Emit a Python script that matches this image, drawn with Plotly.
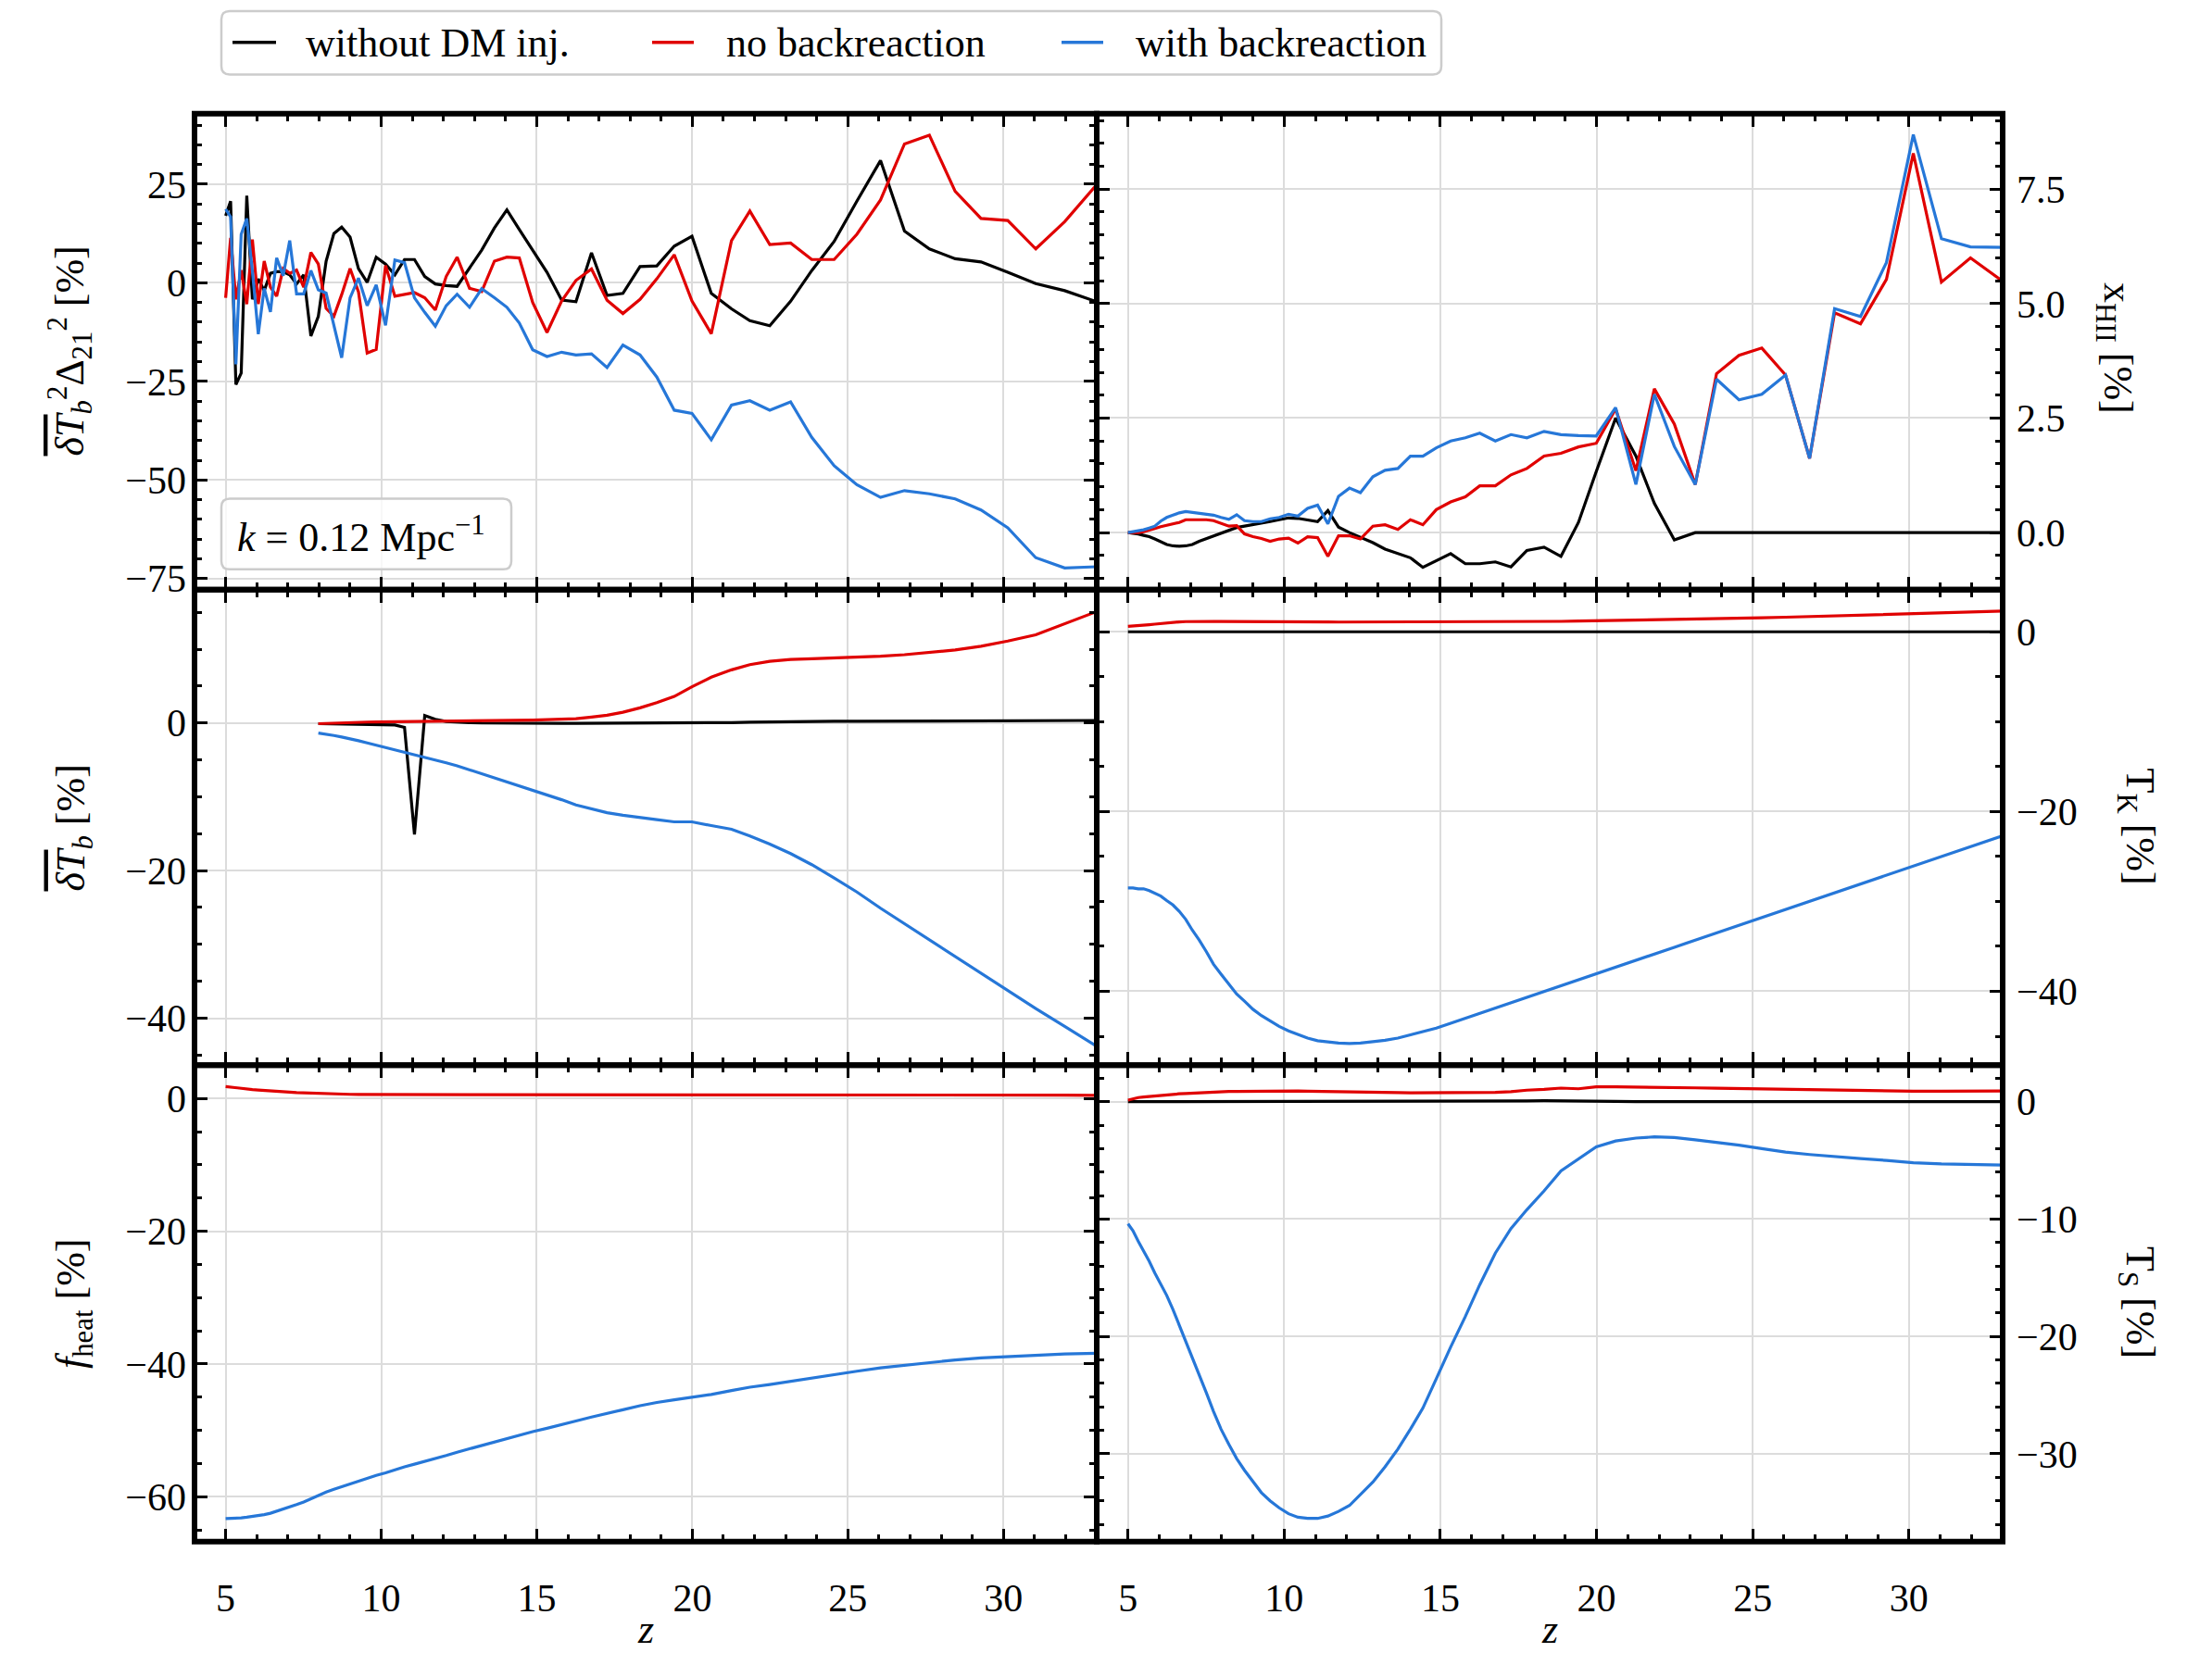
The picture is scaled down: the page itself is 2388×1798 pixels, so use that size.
import plotly.graph_objects as go
from plotly.subplots import make_subplots

W, H = 2388, 1798
FONT = "Liberation Serif"
TICK_SIZE = 42
TEXT_SIZE = 44

# ---------------------------------------------------------------- data
# redshift of the lightcone snapshots
z = [5.00, 5.16, 5.33, 5.50, 5.68, 5.86, 6.05, 6.24, 6.44, 6.64, 6.85, 7.06,
     7.28, 7.51, 7.74, 7.98, 8.23, 8.48, 8.73, 9.00, 9.27, 9.55, 9.84, 10.14,
     10.44, 10.75, 11.07, 11.40, 11.74, 12.09, 12.44, 12.84, 13.23, 13.64,
     14.04, 14.44, 14.87, 15.33, 15.80, 16.26, 16.76, 17.26, 17.77, 18.32,
     18.86, 19.42, 19.99, 20.61, 21.26, 21.85, 22.49, 23.16, 23.84, 24.56,
     25.29, 26.05, 26.82, 27.62, 28.45, 29.28, 30.14, 31.04, 31.97, 33.00]

# brightness-temperature mean is only stored from z ~ 8 onwards
z_tb = z[15:]

# power spectrum at k = 0.12 / Mpc  [% difference]
ps_nodm = [17.0, 20.7, -25.8, -22.9, 22.1, -4.2, 1.0, -2.0, 2.4, 2.8, 2.8, 2.0,
           -0.3, 2.0, -13.5, -8.5, 5.5, 12.5, 14.1, 11.6, 3.6, 0.1, 6.5, 4.75,
           2.0, 5.9, 5.9, 1.6, -0.3, -0.7, -0.9, 3.9, 8.3, 13.9, 18.5, 13.5,
           8.3, 2.65, -4.4, -4.8, 7.6, -3.2, -2.7, 4.1, 4.3, 9.3, 11.8, -2.7,
           -6.6, -9.6, -10.9, -4.7, 3.1, 10.5, 20.7, 31.0, 13.1, 8.6, 6.1, 5.3,
           2.65, -0.2, -2.0, -4.8]
ps_nobr = [-3.8, 11.4, -4.2, 3.2, -5.4, 11.0, -5.4, 5.5, -1.1, -3.4, 3.6, 2.4,
           3.2, -1.1, 7.7, 4.75, -6.5, -8.5, -3.0, 3.6, -2.3, -17.8, -16.9, 4.4,
           -3.4, -3.0, -2.5, -3.8, -6.9, 1.6, 6.5, -1.4, -2.2, 5.5, 6.5, 6.3,
           -5.0, -12.6, -4.6, 0.6, 3.5, -4.4, -7.8, -4.2, 1.0, 7.1, -4.6, -12.9,
           10.7, 18.2, 9.7, 10.1, 5.9, 5.9, 12.3, 21.0, 35.2, 37.4, 23.2, 16.3,
           15.8, 8.6, 15.5, 24.9]
ps_br = [18.7, 16.7, -20.7, 12.3, 16.3, 3.0, -13.0, -1.4, -7.4, 6.3, 1.8, 10.7,
         -2.8, -2.8, 3.1, -1.8, -2.6, -10.5, -19.0, -3.8, 1.2, -5.8, -0.5, -10.8,
         5.8, 5.1, -3.8, -7.5, -11.0, -5.8, -2.9, -6.2, -1.5, -3.8, -6.2, -10.2,
         -17.0, -18.7, -17.6, -18.3, -18.0, -21.5, -15.8, -18.3, -23.9, -32.3,
         -33.1, -39.8, -31.0, -29.9, -32.3, -30.2, -39.2, -46.4, -51.2, -54.4,
         -52.7, -53.5, -54.8, -57.6, -62.1, -69.7, -72.3, -72.0]

# ionised fraction [% points]
xhii_nodm = [0.0, -0.01, -0.03, -0.06, -0.09, -0.14, -0.2, -0.26, -0.29, -0.3,
             -0.29, -0.26, -0.19, -0.13, -0.07, -0.01, 0.06, 0.11, 0.14, 0.17,
             0.2, 0.24, 0.28, 0.32, 0.31, 0.27, 0.24, 0.48, 0.12, 0.0, -0.1,
             -0.22, -0.36, -0.45, -0.55, -0.76, -0.61, -0.46, -0.68, -0.68,
             -0.64, -0.75, -0.39, -0.32, -0.52, 0.22, 1.33, 2.5, 1.67, 0.64,
             -0.16, 0.0, 0.0, 0.0, 0.0, 0.0, 0.0, 0.0, 0.0, 0.0, 0.01, 0.0, 0.0,
             0.0]
xhii_nobr = [0.0, 0.0, 0.0, 0.02, 0.05, 0.09, 0.13, 0.16, 0.18, 0.22, 0.28,
             0.28, 0.29, 0.28, 0.26, 0.2, 0.14, 0.15, -0.03, -0.09, -0.13, -0.19,
             -0.14, -0.12, -0.23, -0.09, -0.11, -0.52, -0.07, -0.07, -0.14, 0.14,
             0.17, 0.07, 0.28, 0.17, 0.5, 0.67, 0.78, 1.02, 1.02, 1.26, 1.4,
             1.67, 1.73, 1.87, 1.95, 2.7, 1.35, 3.14, 2.37, 1.05, 3.47, 3.87,
             4.03, 3.44, 1.62, 4.8, 4.56, 5.53, 8.28, 5.47, 6.0, 5.49]
xhii_br = [0.0, 0.02, 0.04, 0.06, 0.1, 0.14, 0.25, 0.33, 0.38, 0.43, 0.46, 0.44,
           0.42, 0.4, 0.38, 0.33, 0.29, 0.39, 0.26, 0.24, 0.24, 0.3, 0.33, 0.4,
           0.36, 0.53, 0.6, 0.19, 0.79, 0.97, 0.87, 1.22, 1.36, 1.4, 1.67, 1.67,
           1.85, 2.0, 2.07, 2.17, 2.0, 2.14, 2.07, 2.21, 2.14, 2.12, 2.11, 2.73,
           1.05, 3.02, 1.88, 1.05, 3.35, 2.9, 3.02, 3.44, 1.62, 4.89, 4.72, 5.9,
           8.69, 6.42, 6.24, 6.23]

# global brightness temperature [%]
tb_nodm = [-0.1, -0.12, -0.14, -0.16, -0.17, -0.18, -0.19, -0.2, -0.22, -0.28,
           -0.6, -15.1, 1.0, 0.5, 0.2, 0.1, 0.05, 0.0, -0.02, -0.03, -0.04,
           -0.04, -0.04, -0.04, -0.04, -0.04, -0.04, -0.04, -0.04, -0.04, -0.04,
           -0.04, 0.0, 0.05, 0.1, 0.15, 0.2, 0.22, 0.23, 0.24, 0.25, 0.26, 0.27,
           0.28, 0.29, 0.3, 0.31, 0.32, 0.34]
tb_nobr = [-0.1, -0.05, 0.0, 0.05, 0.1, 0.11, 0.12, 0.14, 0.15, 0.17, 0.18, 0.2,
           0.21, 0.23, 0.25, 0.26, 0.28, 0.3, 0.32, 0.34, 0.36, 0.39, 0.44, 0.5,
           0.58, 0.8, 1.05, 1.45, 2.05, 2.75, 3.6, 4.9, 6.2, 7.2, 7.9, 8.35, 8.6,
           8.7, 8.8, 8.93, 9.05, 9.25, 9.55, 9.9, 10.4, 11.1, 11.95, 13.4, 15.1]
tb_br = [-1.37, -1.5, -1.7, -1.9, -2.1, -2.4, -2.7, -3.0, -3.3, -3.6, -3.95,
         -4.25, -4.6, -5.0, -5.4, -5.8, -6.35, -6.9, -7.45, -8.0, -8.5, -9.1,
         -9.7, -10.4, -11.1, -11.6, -12.15, -12.5, -12.85, -13.1, -13.4, -13.4,
         -13.9, -14.4, -15.3, -16.4, -17.7, -19.2, -21.0, -22.9, -25.1, -27.2,
         -29.4, -31.6, -33.9, -36.3, -38.7, -41.1, -43.8]

# kinetic gas temperature [%]
tk_nodm = [0.0, 0.0, 0.0, 0.0, 0.0, 0.0, 0.0, 0.0, 0.0, 0.0, 0.0, 0.0, 0.0, 0.0,
           0.0, 0.0, 0.0, 0.0, 0.0, 0.0, 0.0, 0.0, 0.0, 0.0, 0.0, 0.0, 0.0, 0.0,
           0.0, 0.0, 0.0, 0.0, 0.0, 0.0, 0.0, 0.0, 0.0, 0.0, 0.0, 0.0, 0.0, 0.0,
           0.0, 0.0, 0.0, 0.0, 0.0, 0.0, 0.0, 0.0, 0.0, 0.0, 0.0, 0.0, 0.0, 0.0,
           0.0, 0.0, 0.0, 0.0, 0.0, 0.0, 0.0, 0.0]
tk_nobr = [0.6, 0.63, 0.68, 0.73, 0.79, 0.85, 0.92, 0.99, 1.06, 1.1, 1.13, 1.15,
           1.16, 1.15, 1.14, 1.15, 1.14, 1.14, 1.13, 1.13, 1.13, 1.12, 1.11, 1.1,
           1.1, 1.09, 1.09, 1.09, 1.08, 1.08, 1.08, 1.08, 1.08, 1.08, 1.08, 1.08,
           1.09, 1.09, 1.09, 1.1, 1.1, 1.11, 1.12, 1.14, 1.16, 1.19, 1.22, 1.25,
           1.28, 1.3, 1.33, 1.38, 1.43, 1.48, 1.55, 1.62, 1.7, 1.78, 1.87, 1.97,
           2.05, 2.12, 2.2, 2.3]
tk_br = [-28.5, -28.5, -28.6, -28.6, -28.8, -29.1, -29.4, -29.9, -30.4, -31.1,
         -32.0, -33.2, -34.3, -35.6, -37.0, -38.1, -39.2, -40.3, -41.1, -42.0,
         -42.7, -43.3, -43.9, -44.4, -44.8, -45.2, -45.5, -45.65, -45.75, -45.8,
         -45.75, -45.6, -45.45, -45.2, -44.85, -44.5, -44.1, -43.55, -43.0,
         -42.45, -41.85, -41.3, -40.7, -40.0, -39.4, -38.7, -38.05, -37.3,
         -36.55, -35.85, -35.1, -34.3, -33.5, -32.65, -31.8, -30.9, -30.0,
         -29.05, -28.1, -27.1, -26.1, -25.0, -23.9, -22.7]

# fraction of injected energy deposited as heat [%]
fheat_nobr = [1.8, 1.7, 1.6, 1.5, 1.42, 1.35, 1.28, 1.2, 1.13, 1.07, 1.01, 0.96,
              0.9, 0.85, 0.8, 0.76, 0.72, 0.69, 0.66, 0.63, 0.61, 0.6, 0.59,
              0.58, 0.58, 0.57, 0.57, 0.57, 0.57, 0.57, 0.57, 0.57, 0.57, 0.57,
              0.57, 0.57, 0.57, 0.57, 0.57, 0.57, 0.57, 0.57, 0.57, 0.57, 0.57,
              0.57, 0.57, 0.57, 0.57, 0.6, 0.6, 0.6, 0.6, 0.6, 0.6, 0.6, 0.6,
              0.6, 0.6, 0.58, 0.56, 0.54, 0.51, 0.48]
fheat_br = [-63.3, -63.3, -63.25, -63.2, -63.1, -63.0, -62.85, -62.7, -62.5,
            -62.2, -61.9, -61.6, -61.2, -60.8, -60.3, -59.8, -59.3, -58.9,
            -58.5, -58.1, -57.6, -57.2, -56.8, -56.4, -55.9, -55.5, -55.1,
            -54.7, -54.2, -53.8, -53.3, -52.8, -52.2, -51.7, -51.2, -50.8,
            -50.2, -49.7, -49.2, -48.6, -48.0, -47.4, -46.9, -46.3, -45.8,
            -45.4, -45.0, -44.6, -44.0, -43.5, -43.1, -42.6, -42.1, -41.6,
            -41.1, -40.6, -40.2, -39.8, -39.4, -39.1, -38.9, -38.7, -38.5, -38.4]

# spin temperature [%]
ts_nodm = [0.0, 0.0, 0.0, 0.0, 0.0, 0.0, 0.0, 0.0, 0.0, 0.0, 0.0, 0.0, 0.0, 0.0,
           0.0, 0.0, 0.0, 0.0, 0.0, 0.0, 0.0, 0.0, 0.0, 0.0, 0.0, 0.0, 0.0, 0.0,
           0.0, 0.0, 0.0, 0.0, 0.0, 0.0, 0.0, 0.0, 0.0, 0.0, 0.0, 0.0, 0.02,
           0.04, 0.06, 0.08, 0.08, 0.07, 0.05, 0.03, 0.01, 0.0, 0.0, 0.0, 0.0,
           0.0, 0.0, 0.0, 0.0, 0.0, 0.0, 0.0, 0.0, 0.0, 0.0, 0.0]
ts_nobr = [0.13, 0.25, 0.35, 0.4, 0.45, 0.5, 0.54, 0.58, 0.63, 0.67, 0.7, 0.73,
           0.78, 0.82, 0.84, 0.86, 0.87, 0.88, 0.89, 0.9, 0.91, 0.92, 0.93, 0.94,
           0.92, 0.9, 0.88, 0.86, 0.85, 0.84, 0.82, 0.81, 0.8, 0.77, 0.76, 0.76,
           0.76, 0.76, 0.77, 0.78, 0.8, 0.85, 0.98, 1.05, 1.16, 1.1, 1.27, 1.27,
           1.26, 1.24, 1.21, 1.18, 1.15, 1.12, 1.08, 1.04, 1.0, 0.97, 0.94, 0.91,
           0.89, 0.9, 0.91, 0.92]
ts_br = [-10.4, -11.0, -11.9, -12.7, -13.6, -14.6, -15.5, -16.5, -17.7, -19.0,
         -20.4, -21.8, -23.3, -24.8, -26.4, -27.9, -29.2, -30.4, -31.4, -32.4,
         -33.3, -34.0, -34.6, -35.1, -35.4, -35.5, -35.5, -35.3, -34.9, -34.4,
         -33.5, -32.4, -31.1, -29.6, -27.9, -26.1, -23.6, -20.9, -18.3, -15.6,
         -12.9, -10.8, -9.2, -7.6, -5.9, -4.9, -3.85, -3.35, -3.1, -3.0, -3.05,
         -3.25, -3.45, -3.7, -4.0, -4.3, -4.5, -4.7, -4.85, -5.0, -5.2, -5.3,
         -5.35, -5.4]

series_names = ["without DM inj.", "no backreaction", "with backreaction"]
series_colors = ["#000000", "#e00000", "#2677d8"]

# ---------------------------------------------------------------- layout helpers
def fx(p):
    return p / W


def fy(p):
    return 1 - p / H


X_EDGES = [210, 1184, 2162]            # panel column edges (px)
Y_EDGES = [123.5, 641, 1158, 1676]     # panel row edges (px)

panels = {
    (1, 1): dict(curves=[(z, ps_nodm), (z, ps_nobr), (z, ps_br)],
                 yrange=[-77.8, 42.9], dtick=25, minor=5, fmt=None),
    (1, 2): dict(curves=[(z, xhii_nodm), (z, xhii_nobr), (z, xhii_br)],
                 yrange=[-1.246, 9.15], dtick=2.5, minor=0.5, fmt=".1f"),
    (2, 1): dict(curves=[(z_tb, tb_nodm), (z_tb, tb_nobr), (z_tb, tb_br)],
                 yrange=[-46.37, 18.07], dtick=20, minor=5, fmt=None),
    (2, 2): dict(curves=[(z, tk_nodm), (z, tk_nobr), (z, tk_br)],
                 yrange=[-48.22, 4.69], dtick=20, minor=5, fmt=None),
    (3, 1): dict(curves=[None, (z, fheat_nobr), (z, fheat_br)],
                 yrange=[-66.78, 5.02], dtick=20, minor=5, fmt=None),
    (3, 2): dict(curves=[(z, ts_nodm), (z, ts_nobr), (z, ts_br)],
                 yrange=[-37.48, 3.11], dtick=10, minor=2, fmt=None),
}

fig = make_subplots(rows=3, cols=2)

tickfont = dict(family=FONT, size=TICK_SIZE, color="black")
shapes = []

for (r, c), spec in panels.items():
    for k, cur in enumerate(spec["curves"]):
        if cur is None:
            continue
        xs, ys = cur
        fig.add_trace(
            go.Scatter(x=xs, y=ys, mode="lines", name=series_names[k],
                       line=dict(color=series_colors[k], width=3.2),
                       showlegend=False, hoverinfo="skip"),
            row=r, col=c)

    x0, x1 = X_EDGES[c - 1], X_EDGES[c]
    y0, y1 = Y_EDGES[r - 1], Y_EDGES[r]
    fig.update_xaxes(
        domain=[fx(x0), fx(x1)], range=[4, 33], dtick=5, tick0=0,
        ticks="inside", ticklen=14, tickwidth=3, tickcolor="black",
        mirror="ticks", showline=False, zeroline=False,
        showgrid=True, gridcolor="#dcdcdc", gridwidth=2,
        showticklabels=(r == 3), tickfont=tickfont, ticklabelstandoff=32,
        minor=dict(dtick=1, tick0=0, ticks="inside", ticklen=8, tickwidth=2.5,
                   tickcolor="black", showgrid=False),
        row=r, col=c)
    fig.update_yaxes(
        domain=[fy(y1), fy(y0)], range=spec["yrange"], dtick=spec["dtick"],
        tick0=0, side=("left" if c == 1 else "right"),
        ticks="inside", ticklen=14, tickwidth=3, tickcolor="black",
        mirror="ticks", showline=False, zeroline=False,
        showgrid=True, gridcolor="#dcdcdc", gridwidth=2,
        tickformat=spec["fmt"], tickfont=tickfont,
        ticklabelstandoff=(8 if c == 1 else 14),
        minor=dict(dtick=spec["minor"], tick0=0, ticks="inside", ticklen=8,
                   tickwidth=2.5, tickcolor="black", showgrid=False),
        row=r, col=c)
    # panel frame
    shapes.append(dict(type="rect", xref="paper", yref="paper",
                       x0=fx(x0), x1=fx(x1), y0=fy(y1), y1=fy(y0),
                       line=dict(color="black", width=6), layer="above"))


def rounded_box(px0, py0, px1, py1, rad=9):
    """Rounded rectangle path in paper coordinates from pixel corners."""
    rx, ry = rad / W, rad / H
    a, b, c_, d = fx(px0), fx(px1), fy(py0), fy(py1)   # left, right, top, bottom
    return (f"M{a + rx},{c_} L{b - rx},{c_} Q{b},{c_} {b},{c_ - ry} "
            f"L{b},{d + ry} Q{b},{d} {b - rx},{d} L{a + rx},{d} "
            f"Q{a},{d} {a},{d + ry} L{a},{c_ - ry} Q{a},{c_} {a + rx},{c_} Z")


# legend frame, samples and labels
shapes.append(dict(type="path", xref="paper", yref="paper",
                   path=rounded_box(239, 12, 1556, 81),
                   line=dict(color="#cccccc", width=2.5), fillcolor="white",
                   layer="above"))
legend_items = [(251, 298, 328), (704, 749, 782), (1146, 1191, 1224)]
annotations = []
for (lx0, lx1, tx), name, col in zip(legend_items, series_names, series_colors):
    shapes.append(dict(type="line", xref="paper", yref="paper",
                       x0=fx(lx0), x1=fx(lx1), y0=fy(46), y1=fy(46),
                       line=dict(color=col, width=3.5), layer="above"))
    annotations.append(dict(text=name, x=fx(tx), y=fy(47), xref="paper",
                            yref="paper", xanchor="left", yanchor="middle",
                            showarrow=False,
                            font=dict(family=FONT, size=TEXT_SIZE, color="black")))

# k box inside the power-spectrum panel
shapes.append(dict(type="path", xref="paper", yref="paper",
                   path=rounded_box(239, 542, 552, 619),
                   line=dict(color="#cccccc", width=2.5),
                   fillcolor="rgba(255,255,255,0.8)", layer="above"))
annotations.append(dict(text="<i>k</i> = 0.12 Mpc<sup>−1</sup>", x=fx(254),
                        y=fy(581), xref="paper", yref="paper", xanchor="left",
                        yanchor="middle", showarrow=False,
                        font=dict(family=FONT, size=TEXT_SIZE, color="black")))

# axis titles
ov = '<span style="text-decoration:overline"><i>δT</i></span><i><sub>b</sub></i>'
left_titles = [
    (382, ov + "<sup>2</sup>Δ<sub>21</sub><sup>2</sup> [%]"),
    (900, ov + " [%]"),
    (1417, "<i>f</i><sub>heat</sub> [%]"),
]
for yc, txt in left_titles:
    annotations.append(dict(text=txt, x=fx(109), y=fy(yc), xref="paper",
                            yref="paper", xanchor="right", yanchor="middle",
                            textangle=-90, showarrow=False,
                            font=dict(family=FONT, size=TEXT_SIZE, color="black")))
right_titles = [
    (2254, 378, "x<sub>HII</sub> [%]"),
    (2278, 898, "T<sub>K</sub> [%]"),
    (2278, 1416, "T<sub>S</sub> [%]"),
]
for xl, yc, txt in right_titles:
    annotations.append(dict(text=txt, x=fx(xl), y=fy(yc), xref="paper",
                            yref="paper", xanchor="left", yanchor="middle",
                            textangle=90, showarrow=False,
                            font=dict(family=FONT, size=TEXT_SIZE, color="black")))
for xc in (697, 1673):
    annotations.append(dict(text="<i>z</i>", x=fx(xc), y=fy(1771), xref="paper",
                            yref="paper", xanchor="center", yanchor="middle",
                            showarrow=False,
                            font=dict(family=FONT, size=TEXT_SIZE, color="black")))

fig.update_layout(
    width=W, height=H, margin=dict(l=0, r=0, t=0, b=0),
    paper_bgcolor="white", plot_bgcolor="white",
    showlegend=False, shapes=shapes, annotations=annotations,
    font=dict(family=FONT, size=TICK_SIZE, color="black"),
)

fig.write_html("out.html")
